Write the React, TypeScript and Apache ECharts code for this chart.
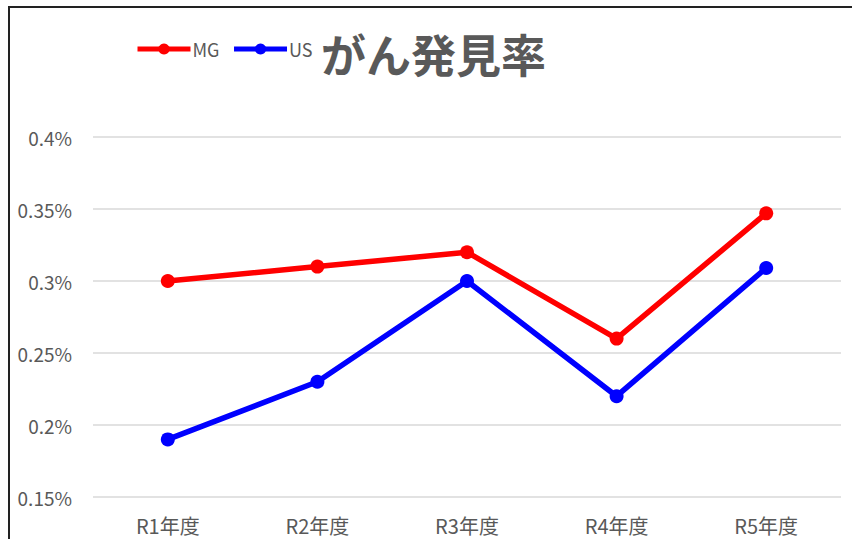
import React, { useEffect, useRef } from "react";
import * as echarts from "echarts";

const categories = ["R1年度", "R2年度", "R3年度", "R4年度", "R5年度"];
const mgValues = [0.3, 0.31, 0.32, 0.26, 0.347];
const usValues = [0.19, 0.23, 0.3, 0.22, 0.309];
const titleText = "がん発見率";

const FONT = '"Noto Sans CJK JP", "Noto Sans", sans-serif';

export default function App() {
  const ref = useRef<HTMLDivElement>(null);
  useEffect(() => {
    if (!ref.current) return;
    const chart = echarts.init(ref.current, undefined, { renderer: "svg" });
    const series = [
      { name: "MG", data: mgValues, color: "#FF0000" },
      { name: "US", data: usValues, color: "#0000FF" },
    ];
    chart.setOption({
      animation: false,
      backgroundColor: "#ffffff",
      textStyle: { fontFamily: FONT },
      title: {
        text: titleText,
        left: 311,
        top: 23,
        padding: 0,
        textStyle: { fontFamily: FONT, fontSize: 45, fontWeight: "bold", color: "#595959" },
      },
      legend: {
        left: 125,
        top: 32,
        padding: 0,
        itemWidth: 53,
        itemHeight: 14,
        itemGap: 12,
        lineStyle: { width: 5 },
        textStyle: { fontFamily: FONT, fontSize: 18, color: "#595959", padding: [0, 0, 0, -3] },
        data: ["MG", "US"],
      },
      grid: { left: 83, right: 11, top: 129, bottom: 42, containLabel: false },
      xAxis: {
        type: "category",
        data: categories,
        boundaryGap: true,
        axisLine: { show: false },
        axisTick: { show: false },
        axisLabel: { fontFamily: FONT, fontSize: 20, color: "#595959", margin: 18 },
      },
      yAxis: {
        type: "value",
        min: 0.15,
        max: 0.4,
        interval: 0.05,
        axisLine: { show: false },
        axisTick: { show: false },
        splitLine: { lineStyle: { color: "#d9d9d9", width: 1.5 } },
        axisLabel: {
          fontFamily: FONT,
          fontSize: 19,
          color: "#595959",
          margin: 21,
          formatter: (v: number) => `${parseFloat(v.toFixed(4))}%`,
        },
      },
      series: series.map((s) => ({
        name: s.name,
        type: "line",
        data: s.data,
        symbol: "circle",
        symbolSize: 14,
        lineStyle: { width: 5.5, color: s.color },
        itemStyle: { color: s.color },
        emphasis: { disabled: true },
      })),
    });
    return () => chart.dispose();
  }, []);
  return (
    <div style={{ position: "fixed", left: 0, top: 0, width: 852, height: 539, overflow: "hidden", background: "#fff" }}>
      <div
        style={{
          position: "absolute",
          left: 8,
          top: 6,
          width: 852,
          height: 539,
          borderLeft: "2px solid #222",
          borderTop: "2px solid #222",
        }}
      >
        <div ref={ref} style={{ width: 842, height: 531 }} />
      </div>
    </div>
  );
}
